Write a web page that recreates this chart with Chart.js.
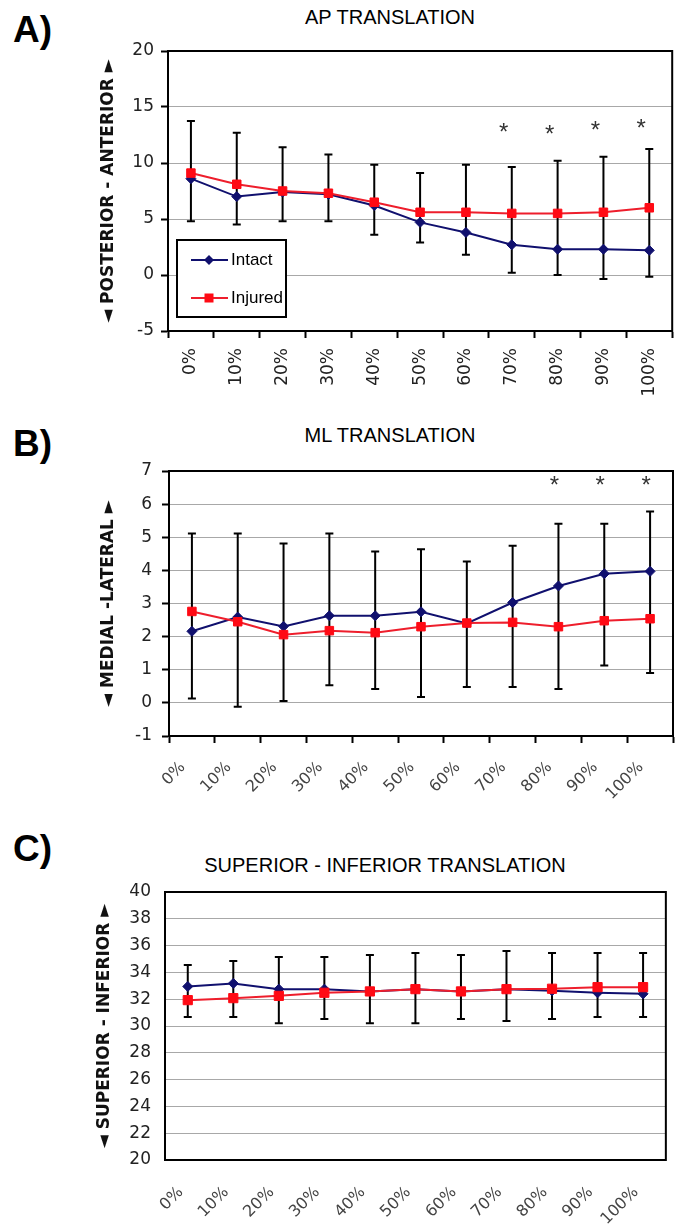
<!DOCTYPE html>
<html>
<head>
<meta charset="utf-8">
<script src="https://cdn.jsdelivr.net/npm/chart.js@4/dist/chart.umd.min.js"></script>
<style>
  body { margin: 0; background: #fff; width: 675px; height: 1226px; overflow: hidden; position: relative; }
  canvas { position: absolute; left: 0; }
  .panel { position: absolute; left: 13px; font: bold 37px "Liberation Sans", Arial, sans-serif; line-height: 1; }
  .ttl { position: absolute; font: 20px "Liberation Sans", Arial, sans-serif; line-height: 1; white-space: nowrap; transform: translateX(-50%); }
</style>
</head>
<body>
<div class="panel" style="top:11px">A)</div>
<div class="panel" style="top:425px">B)</div>
<div class="panel" style="top:830px">C)</div>
<div class="ttl" style="left:390px;top:7px">AP TRANSLATION</div>
<div class="ttl" style="left:390px;top:425px">ML TRANSLATION</div>
<div class="ttl" style="left:385px;top:855px">SUPERIOR - INFERIOR TRANSLATION</div>

<canvas id="chartA" width="680" height="410" style="top:0px"></canvas>
<canvas id="chartB" width="680" height="410" style="top:400px"></canvas>
<canvas id="chartC" width="680" height="416" style="top:810px"></canvas>

<script>
const categories = ["0%", "10%", "20%", "30%", "40%", "50%", "60%", "70%", "80%", "90%", "100%"];

// A) AP translation
const apIntact  = [8.6, 7.0, 7.4, 7.2, 6.2, 4.7, 3.8, 2.7, 2.3, 2.3, 2.2];
const apInjured = [9.1, 8.1, 7.5, 7.3, 6.5, 5.6, 5.6, 5.5, 5.5, 5.6, 6.0];
const apErrHigh = [13.75, 12.7, 11.4, 10.75, 9.85, 9.1, 9.85, 9.65, 10.2, 10.55, 11.25];
const apErrLow  = [4.8, 4.5, 4.8, 4.8, 3.6, 2.9, 1.8, 0.2, 0.0, -0.35, -0.15];
const apStars   = [null, null, null, null, null, null, null, 13.15, 13.0, 13.35, 13.5];

// B) ML translation
const mlIntact  = [2.16, 2.59, 2.31, 2.63, 2.63, 2.75, 2.4, 3.03, 3.53, 3.9, 3.97];
const mlInjured = [2.76, 2.45, 2.06, 2.18, 2.12, 2.3, 2.41, 2.43, 2.3, 2.48, 2.54];
const mlErrHigh = [5.11, 5.11, 4.81, 5.11, 4.57, 4.64, 4.27, 4.74, 5.41, 5.41, 5.78];
const mlErrLow  = [0.13, -0.12, 0.06, 0.53, 0.42, 0.18, 0.48, 0.48, 0.42, 1.13, 0.9];
const mlStars   = [null, null, null, null, null, null, null, null, 6.72, 6.72, 6.72];

// C) superior - inferior translation
const siIntact  = [32.95, 33.18, 32.75, 32.75, 32.58, 32.75, 32.58, 32.75, 32.63, 32.48, 32.4];
const siInjured = [31.93, 32.08, 32.25, 32.48, 32.58, 32.75, 32.58, 32.75, 32.78, 32.9, 32.9];
const siErrHigh = [34.55, 34.85, 35.15, 35.15, 35.3, 35.45, 35.3, 35.6, 35.45, 35.45, 35.45];
const siErrLow  = [30.68, 30.68, 30.2, 30.53, 30.2, 30.2, 30.53, 30.38, 30.53, 30.68, 30.68];

const NAVY = "#10106e";
const RED = "#ff0a14";
const TICK_FONT = "'DejaVu Sans', sans-serif";

// vertical error bars, drawn under the lines
const errorBars = {
    id: "errorBars",
    beforeDatasetsDraw(chart, args, opts) {
        const {ctx, scales: {x, y}} = chart;
        ctx.save();
        ctx.strokeStyle = "#000";
        ctx.lineWidth = 2;
        opts.high.forEach((hi, i) => {
            const px = x.getPixelForValue(i);
            const top = y.getPixelForValue(hi);
            const bot = y.getPixelForValue(opts.low[i]);
            ctx.beginPath();
            ctx.moveTo(px, top); ctx.lineTo(px, bot);
            ctx.moveTo(px - 4, top); ctx.lineTo(px + 4, top);
            ctx.moveTo(px - 4, bot); ctx.lineTo(px + 4, bot);
            ctx.stroke();
        });
        ctx.restore();
    }
};

// plot area frame (top / right edges)
const frame = {
    id: "frame",
    beforeDatasetsDraw(chart) {
        const {ctx, chartArea: a} = chart;
        ctx.save();
        ctx.strokeStyle = "#000";
        ctx.lineWidth = 2;
        ctx.strokeRect(a.left, a.top, a.right - a.left, a.bottom - a.top);
        ctx.restore();
    }
};

// significance asterisks
const stars = {
    id: "stars",
    afterDatasetsDraw(chart, args, opts) {
        const {ctx, scales: {x, y}} = chart;
        ctx.save();
        ctx.fillStyle = "#333";
        ctx.font = "24px 'Liberation Sans', Arial, sans-serif";
        ctx.textAlign = "center";
        ctx.textBaseline = "middle";
        opts.values.forEach((v, i) => {
            if (v === null) return;
            ctx.fillText("*", x.getPixelForValue(i) + opts.dx, y.getPixelForValue(v) + 6);
        });
        ctx.restore();
    }
};

// boxed legend inside the plot area (panel A only)
const boxLegend = {
    id: "boxLegend",
    afterDraw(chart, args, opts) {
        if (!opts.show) return;
        const {ctx, chartArea: a} = chart;
        const left = a.left + 9, top = a.top + 189;
        ctx.save();
        ctx.strokeStyle = "#000";
        ctx.lineWidth = 2;
        ctx.fillStyle = "#fff";
        ctx.fillRect(left, top, 109, 77);
        ctx.strokeRect(left, top, 109, 77);
        ctx.font = "17px 'Liberation Sans', Arial, sans-serif";
        ctx.textBaseline = "middle";
        chart.data.datasets.forEach((ds, i) => {
            const cy = top + 20 + i * 38;
            ctx.strokeStyle = ds.borderColor;
            ctx.lineWidth = 2;
            ctx.beginPath();
            ctx.moveTo(left + 14, cy); ctx.lineTo(left + 51, cy);
            ctx.stroke();
            ctx.fillStyle = ds.pointBackgroundColor;
            const cx = left + 32;
            if (ds.pointStyle === "rect") {
                ctx.fillRect(cx - 4.5, cy - 4.5, 9, 9);
            } else {
                ctx.beginPath();
                ctx.moveTo(cx, cy - 5); ctx.lineTo(cx + 5, cy);
                ctx.lineTo(cx, cy + 5); ctx.lineTo(cx - 5, cy);
                ctx.closePath(); ctx.fill();
            }
            ctx.fillStyle = "#000";
            ctx.fillText(ds.label, left + 54, cy);
        });
        ctx.restore();
    }
};

function makeChart(id, p) {
    return new Chart(document.getElementById(id), {
        type: "line",
        data: {
            labels: categories,
            datasets: [
                {
                    label: "Intact", data: p.intact, order: 2,
                    borderColor: NAVY, borderWidth: 2,
                    pointStyle: "rectRot", pointRadius: 5,
                    pointBackgroundColor: NAVY, pointBorderColor: NAVY, pointBorderWidth: 1
                },
                {
                    label: "Injured", data: p.injured, order: 1,
                    borderColor: "#ee1e2c", borderWidth: 2,
                    pointStyle: "rect", pointRadius: p.sq,
                    pointBackgroundColor: RED, pointBorderColor: RED, pointBorderWidth: 1
                }
            ]
        },
        options: {
            responsive: false,
            animation: false,
            layout: {padding: {top: p.top, left: 0, right: p.right, bottom: 0}},
            plugins: {
                legend: {display: false},
                tooltip: {enabled: false},
                errorBars: {high: p.high, low: p.low},
                stars: {values: p.stars || [], dx: p.starDx || 0},
                boxLegend: {show: !!p.legend}
            },
            scales: {
                x: {
                    offset: true,
                    afterFit: s => { s.height = p.xHeight; },
                    grid: {
                        display: p.xTicks, offset: true, drawOnChartArea: false,
                        drawTicks: p.xTicks, tickLength: 7, tickColor: "#000", tickWidth: 2
                    },
                    border: {display: true, color: "#000", width: 2},
                    ticks: {
                        autoSkip: false, minRotation: p.rot, maxRotation: p.rot,
                        padding: p.xPad, labelOffset: p.xOff,
                        color: p.xColor, font: {family: TICK_FONT, size: p.xSize}
                    }
                },
                y: {
                    min: p.min, max: p.max,
                    afterFit: s => { s.width = p.yWidth; },
                    grid: {
                        color: "#a8a8a8", lineWidth: 1,
                        drawTicks: p.yTicks, tickLength: 7, tickColor: "#000", tickWidth: 2
                    },
                    border: {display: true, color: "#000", width: 2},
                    ticks: {
                        stepSize: p.step, padding: p.yPad, color: "#222",
                        font: {family: TICK_FONT, size: 17}
                    },
                    title: {
                        display: true, text: p.yTitle, color: "#111",
                        font: {family: "'DejaVu Sans', sans-serif", size: 17, weight: "bold"},
                        padding: {top: p.titleX - 10, bottom: 0}
                    }
                }
            }
        },
        plugins: [frame, errorBars, stars, boxLegend]
    });
}

makeChart("chartA", {
    intact: apIntact, injured: apInjured, high: apErrHigh, low: apErrLow,
    stars: apStars, starDx: -8, legend: true, sq: 6,
    min: -5, max: 20, step: 5,
    top: 51, right: 3, yWidth: 168, xHeight: 79,
    rot: 90, xPad: 10, xOff: 0, xSize: 17, xColor: "#222", xTicks: true,
    yTicks: true, yPad: 7, titleX: 108,
    yTitle: "\u25C4 POSTERIOR - ANTERIOR \u25BA"
});

makeChart("chartB", {
    intact: mlIntact, injured: mlInjured, high: mlErrHigh, low: mlErrLow,
    stars: mlStars, starDx: -4, sq: 6,
    min: -1, max: 7, step: 1,
    top: 71, right: 2, yWidth: 169, xHeight: 74,
    rot: 45, xPad: 15, xOff: -9, xSize: 16, xColor: "#444", xTicks: true,
    yTicks: true, yPad: 10, titleX: 108,
    yTitle: "\u25C4 MEDIAL -LATERAL \u25BA"
});

makeChart("chartC", {
    intact: siIntact, injured: siInjured, high: siErrHigh, low: siErrLow,
    sq: 6.5,
    min: 20, max: 40, step: 2,
    top: 82, right: 2, yWidth: 165, xHeight: 66,
    rot: 45, xPad: 23, xOff: -7, xSize: 16, xColor: "#444", xTicks: false,
    yTicks: false, yPad: 14, titleX: 104,
    yTitle: "\u25C4 SUPERIOR - INFERIOR \u25BA"
});
</script>
</body>
</html>
